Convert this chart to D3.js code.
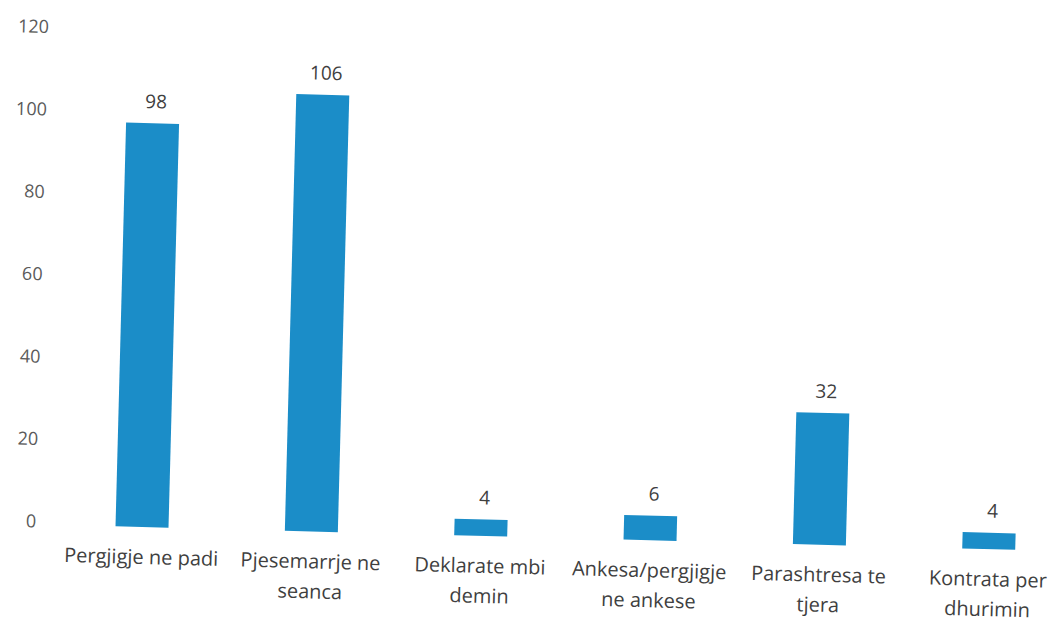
<!DOCTYPE html>
<html>
<head>
<meta charset="utf-8">
<script src="https://cdn.jsdelivr.net/npm/d3@7"></script>
<style>
  html, body { margin: 0; padding: 0; background: #fff; }
  svg { display: block; }
</style>
</head>
<body>
<div id="chart"></div>
<script>
// chart data
const categories = ["Pergjigje ne padi", "Pjesemarrje ne seanca", "Deklarate mbi demin",
                    "Ankesa/pergjigje ne ankese", "Parashtresa te tjera", "Kontrata per dhurimin"];
const labelLines = [["Pergjigje ne padi"], ["Pjesemarrje ne", "seanca"], ["Deklarate mbi", "demin"],
                    ["Ankesa/pergjigje", "ne ankese"], ["Parashtresa te", "tjera"], ["Kontrata per", "dhurimin"]];
const values = [98, 106, 4, 6, 32, 4];
const yTicks = [0, 20, 40, 60, 80, 100, 120];

const width = 1052, height = 625;
const base = 527, x0 = 142;
const font = "'Open Sans', 'Noto Sans', sans-serif";

const svg = d3.select("#chart").append("svg")
    .attr("width", width)
    .attr("height", height);

// the original is a slightly tilted scan, so the plot is rotated a little
const g = svg.append("g")
    .attr("transform", "rotate(1.5," + x0 + "," + base + ")");

const x = d3.scalePoint()
    .domain(categories)
    .range([x0, x0 + 5 * 169.4]);

const y = d3.scaleLinear()
    .domain([0, 120])
    .range([base, base - 494.6]);

const barW = 53;

// y axis labels (no axis line, gridlines washed out in the scan)
g.append("g")
    .selectAll("text")
    .data(yTicks)
    .enter()
    .append("text")
    .attr("x", 36)
    .attr("y", d => y(d) - 3)
    .attr("dy", "0.35em")
    .attr("text-anchor", "end")
    .style("font-family", font)
    .style("font-size", "18px")
    .style("fill", "#5a5a5a")
    .text(d => d);

// bars
g.selectAll("rect")
    .data(values)
    .enter()
    .append("rect")
    .attr("x", (d, i) => x(categories[i]) - barW / 2)
    .attr("y", d => y(d))
    .attr("width", barW)
    .attr("height", d => y(0) - y(d))
    .style("fill", "#1b8dc8");

// value labels
g.append("g")
    .selectAll("text")
    .data(values)
    .enter()
    .append("text")
    .attr("x", (d, i) => x(categories[i]) + 3)
    .attr("y", d => y(d) - 15)
    .attr("text-anchor", "middle")
    .style("font-family", font)
    .style("font-size", "19px")
    .style("fill", "#3f3f3f")
    .text(d => d);

// category labels
const cat = g.append("g")
    .selectAll("text")
    .data(labelLines)
    .enter()
    .append("text")
    .attr("x", (d, i) => x(categories[i]))
    .attr("y", base + 37)
    .attr("text-anchor", "middle")
    .style("font-family", font)
    .style("font-size", "20px")
    .style("fill", "#3f3f3f");

cat.selectAll("tspan")
    .data(d => d)
    .enter()
    .append("tspan")
    .attr("x", function() { return this.parentNode.getAttribute("x"); })
    .attr("dy", (d, i) => i === 0 ? 0 : 30)
    .text(d => d);
</script>
</body>
</html>
